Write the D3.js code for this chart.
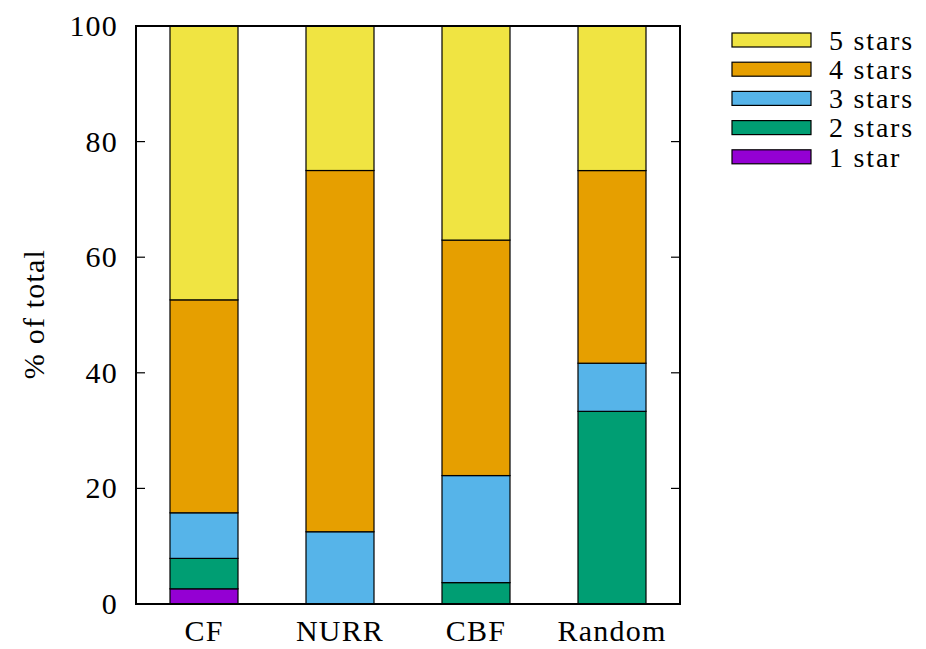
<!DOCTYPE html>
<html>
<head>
  <script src="https://d3js.org/d3.v7.min.js"></script>
  <style>
    body, html { margin: 0; padding: 0; background: #fff; overflow: hidden; }
    text { font-family: "Liberation Serif", "DejaVu Serif", serif; fill: #000; letter-spacing: 1.2px; }
  </style>
</head>
<body>
  <div id="chart"></div>
  <script>
    // data: share of ratings (%) per recommender
    const methods = ["CF", "NURR", "CBF", "Random"];
    const levels = ["1 star", "2 stars", "3 stars", "4 stars", "5 stars"];
    const oneStar   = [2.63, 0, 0, 0];
    const twoStars  = [5.26, 0, 3.70, 33.33];
    const threeStars = [7.89, 12.5, 18.52, 8.33];
    const fourStars = [36.84, 62.5, 40.74, 33.33];
    const fiveStars = [47.37, 25, 37.04, 25];
    const yTicks = [0, 20, 40, 60, 80, 100];
    const colors = ["#9400d3", "#009e73", "#56b4e9", "#e69f00", "#f0e442"];

    const width = 926, height = 649;
    const margin = { left: 136, right: 246, top: 26, bottom: 45 };
    const fontSize = 30;

    const svg = d3.select("#chart").append("svg")
      .attr("width", width)
      .attr("height", height);

    const x = d3.scaleBand()
      .domain(methods)
      .range([margin.left, width - margin.right])
      .paddingInner(0.5)
      .paddingOuter(0.25);

    const y = d3.scaleLinear()
      .domain([0, 100])
      .range([height - margin.bottom, margin.top]);

    const rows = methods.map((m, i) => ({
      method: m,
      "1 star": oneStar[i],
      "2 stars": twoStars[i],
      "3 stars": threeStars[i],
      "4 stars": fourStars[i],
      "5 stars": fiveStars[i]
    }));

    const series = d3.stack().keys(levels)(rows);

    // bars
    svg.append("g")
      .selectAll("g")
      .data(series)
      .join("g")
      .attr("fill", (d, i) => colors[i])
      .selectAll("rect")
      .data(d => d.filter(p => p[1] - p[0] > 0))
      .join("rect")
      .attr("x", d => x(d.data.method))
      .attr("width", x.bandwidth())
      .attr("y", d => y(d[1]))
      .attr("height", d => y(d[0]) - y(d[1]))
      .attr("stroke", "#000")
      .attr("stroke-width", 1.2);

    // y ticks, mirrored inside on both sides
    const tickLen = 9;
    const x0 = margin.left, x1 = width - margin.right;
    const ticks = svg.append("g");
    ticks.selectAll("line.l")
      .data(yTicks)
      .join("line")
      .attr("x1", x0).attr("x2", x0 + tickLen)
      .attr("y1", d => y(d)).attr("y2", d => y(d))
      .attr("stroke", "#000").attr("stroke-width", 1.2);
    ticks.selectAll("line.r")
      .data(yTicks)
      .join("line")
      .attr("x1", x1).attr("x2", x1 - tickLen)
      .attr("y1", d => y(d)).attr("y2", d => y(d))
      .attr("stroke", "#000").attr("stroke-width", 1.2);
    ticks.selectAll("text")
      .data(yTicks)
      .join("text")
      .attr("x", x0 - 18)
      .attr("y", d => y(d))
      .attr("dy", "0.33em")
      .attr("text-anchor", "end")
      .attr("font-size", fontSize)
      .text(d => d);

    // frame
    svg.append("rect")
      .attr("x", x0).attr("y", margin.top)
      .attr("width", x1 - x0)
      .attr("height", height - margin.bottom - margin.top)
      .attr("fill", "none")
      .attr("stroke", "#000")
      .attr("stroke-width", 2);

    // x labels
    svg.append("g")
      .selectAll("text")
      .data(methods)
      .join("text")
      .attr("x", d => x(d) + x.bandwidth() / 2)
      .attr("y", 641)
      .attr("text-anchor", "middle")
      .attr("font-size", fontSize)
      .text(d => d);

    // y axis title
    svg.append("text")
      .attr("transform", "translate(44,314) rotate(-90)")
      .attr("text-anchor", "middle")
      .attr("font-size", fontSize)
      .text("% of total");

    // legend, top to bottom: 5 stars .. 1 star
    const legend = svg.append("g");
    const order = levels.map((l, i) => ({ label: l, color: colors[i] })).reverse();
    const item = legend.selectAll("g")
      .data(order)
      .join("g")
      .attr("transform", (d, i) => `translate(732, ${40 + i * 29.2})`);
    item.append("rect")
      .attr("x", 0).attr("y", -7)
      .attr("width", 79).attr("height", 14)
      .attr("fill", d => d.color)
      .attr("stroke", "#000")
      .attr("stroke-width", 1.2);
    item.append("text")
      .attr("x", 97)
      .attr("y", 0)
      .attr("dy", "0.35em")
      .attr("font-size", 28)
      .style("letter-spacing", "1.8px")
      .text(d => d.label);
  </script>
</body>
</html>
